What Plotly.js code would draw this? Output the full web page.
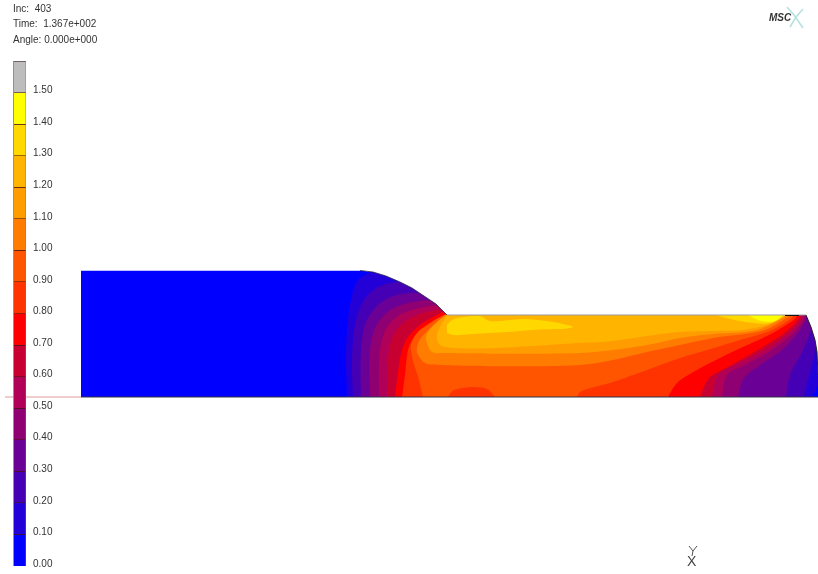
<!DOCTYPE html>
<html><head><meta charset="utf-8">
<script src="https://cdn.plot.ly/plotly-3.0.1.min.js"></script>
<style>html,body{margin:0;padding:0;background:#fff}#chart{width:818px;height:574px;filter:blur(0.35px)}</style>
</head><body><div id="chart"></div>
<script>
// Legend values and colours (bottom to top)
const legendTicks = ['0.00','0.10','0.20','0.30','0.40','0.50','0.60','0.70','0.80','0.90','1.00','1.10','1.20','1.30','1.40','1.50'];
const legendStep = [0.1,0.1,0.1,0.1,0.1,0.1,0.1,0.1,0.1,0.1,0.1,0.1,0.1,0.1,0.1,0.1];
const bandColors = ['#0000ff','#2400d8','#4500b5','#6a0095','#8f0072','#b00058','#c80032','#ff0000','#ff3300','#ff5500','#ff7c00','#ff9c00','#ffb400','#ffd800','#ffff00','#bdbdbd'];
const headerLines = ['Inc:  403','Time:  1.367e+002','Angle: 0.000e+000'];
const headerRows = [8,23,39];

// Part outline (image units, y down)
const shoulder = [[360,270.5],[373,272],[386,276],[400,282],[412,288],[423,295],[430,300],[436,304],[442,310],[447,315]];
const endFace = [[806,315],[811,327],[815,340],[817,352],[818,375]];
const outline = [[81,270.5]].concat(shoulder,endFace,[[818,397],[81,397]]);

// Left (bottom to surface) and right (surface to bottom) iso-lines of each level
const left01 = [[347,397],[346,360],[347,330],[351,300],[358,280],[372,272]];
const right01 = [[818,385],[812,397]];
const left02 = [[353,397],[352,360],[355,325],[364,300],[378,287],[400,282]];
const right02 = [[816,345],[812,365],[808,380],[804,397]];
const left03 = [[361,397],[361,350],[366,322],[379,304],[397,295],[420,293]];
const right03 = [[811,327],[803,350],[790,375],[786,397]];
const left04 = [[370,397],[370,350],[376,326],[389,311],[408,303],[431,300.5]];
const right04 = [[806,318],[800,330],[782,350],[760,365],[744,378],[738,397]];
const left05 = [[379,397],[380,350],[386,329],[398,316],[416,309],[438,306]];
const right05 = [[804,315],[796,330],[772,350],[745,365],[727,375],[722,397]];
const left06 = [[387,397],[389,350],[395,332],[407,320],[423,313],[441,309.5]];
const right06 = [[802,315],[792,330],[765,350],[735,365],[718,375],[712,397]];
const left07 = [[395,397],[402,350],[408,337],[420,325],[433,317],[444,312]];
const right07 = [[799,315],[788,330],[758,350],[728,367],[709,378],[700,397]];
const left08 = [[402,397],[405,375],[408,350],[414,337],[428,325],[446,314]];
const right08 = [[797,315],[778,330],[730,353],[697,370],[677,383],[668,397]];
const left09 = [[423,397],[419,380],[412,357],[411,345],[417,333],[430,323],[447,315]];
const right09 = [[793,315],[772,330],[740,340],[707,350],[680,358],[647,370],[613,382],[580,392],[577,397]];

// Closed regions of the upper levels
const level10 = [[445,315],[428,330],[419,341],[417,352],[425,363],[440,365],[580,365],[613,360],[647,352],[680,345],[713,338],[765,330],[791,315]];
const level11 = [[446,315],[432,327],[426,338],[432,352],[445,353],[580,353],[613,350],[647,345],[680,338],[713,334],[757,330],[788,315]];
const level12 = [[447,315],[440,327],[437,335],[440,345],[580,343],[613,341],[647,336],[680,332],[713,331],[743,330],[770,324],[786,315]];
const level13a = [[447,325],[452,320],[460,317.5],[480,316],[490,321],[523,319],[553,322],[573,327],[567,328.5],[540,329.5],[507,332],[473,334],[453,335],[447,333]];
const level13b = [[715,315],[745,322],[771,323],[785,315]];
const level14 = [[748,315],[761,321],[775,321],[783,315]];
const patch08 = [[448,397],[452,391],[462,388],[475,387],[487,389],[495,397]];

// White surroundings that trim the smoothed bands back to the part outline
const maskTop = [[81,260],[81,270.5]].concat(shoulder,endFace,[[818,260]]);
const maskBottom = [[81,397.5],[818,397.5],[818,412],[81,412]];

function xs(p){return p.map(q=>q[0]);}
function ys(p){return p.map(q=>q[1]);}
function between(l,r){
  const a=l[l.length-1], b=r[0];
  const top=outline.filter(q=>q[0]>a[0]&&(q[0]<b[0]||(q[0]===b[0]&&q[1]<b[1]))&&q[1]<397);
  return l.concat(top,r);
}
function poly(p,c){return {type:'scatter',mode:'lines',x:xs(p),y:ys(p),fill:'toself',fillcolor:c,line:{width:0,shape:'spline',smoothing:0.9},hoverinfo:'skip',showlegend:false};}
function flat(p,c){return {type:'scatter',mode:'lines',x:xs(p),y:ys(p),fill:'toself',fillcolor:c,line:{width:0},hoverinfo:'skip',showlegend:false};}
function stroke(p,c,w){return {type:'scatter',mode:'lines',x:xs(p),y:ys(p),line:{color:c,width:w},hoverinfo:'skip',showlegend:false};}

const traces=[];
traces.push(flat(outline,bandColors[0]));
[[left01,right01],[left02,right02],[left03,right03],[left04,right04],[left05,right05],[left06,right06],[left07,right07],[left08,right08],[left09,right09]]
  .forEach((s,i)=>{ traces.push(poly(between(s[0],s[1]),bandColors[i+1])); });
traces.push(poly(patch08,bandColors[8]));
traces.push(poly(level10,bandColors[10]));
traces.push(poly(level11,bandColors[11]));
traces.push(poly(level12,bandColors[12]));
traces.push(poly(level13a,bandColors[13]));
traces.push(poly(level13b,bandColors[13]));
traces.push(poly(level14,bandColors[14]));
traces.push(flat(maskTop,'#ffffff'));
traces.push(flat(maskBottom,'#ffffff'));

// Outlines, symmetry line and triad
const symmetryLine=[[5,397],[81,397]];
const bottomEdge=[[81,397],[818,397]];
const neckEdge=[[447,315],[806,315]];
const darkMark=[[785,315.5],[799,315.5]];
traces.push(stroke(symmetryLine,'#e49a9a',1));
traces.push(stroke(bottomEdge,'#333344',1.2));
traces.push(stroke(neckEdge,'#999999',1));
traces.push(stroke(endFace,'#222222',1));
traces.push(stroke(shoulder,'#202050',0.8));
traces.push(stroke(darkMark,'#111111',1));
traces.push(stroke([[689,546],[693,551],[697,546]],'#555555',1));
traces.push(stroke([[693,551],[692,556]],'#555555',1));
traces.push(stroke([[787,7],[794,15],[803,28]],'#b5e0e0',1.5));
traces.push(stroke([[803,9],[796,17],[790,27]],'#b5e0e0',1.5));

// Legend: one stacked bar per band
legendStep.forEach((v,i)=>{
  traces.push({type:'bar',x:[0],y:[v],xaxis:'x2',yaxis:'y2',width:1,
    marker:{color:bandColors[i],line:{color:'rgba(70,20,20,0.7)',width:0.8}},hoverinfo:'skip',showlegend:false});
});
traces.push({type:'scatter',mode:'lines',x:[-0.5,-0.5],y:[0,1.6],xaxis:'x2',yaxis:'y2',cliponaxis:false,line:{color:'#666',width:1},hoverinfo:'skip',showlegend:false});
traces.push({type:'scatter',mode:'lines',x:[0.5,0.5],y:[0,1.6],xaxis:'x2',yaxis:'y2',cliponaxis:false,line:{color:'#777',width:0.8},hoverinfo:'skip',showlegend:false});
traces.push({type:'scatter',mode:'lines',x:[-0.5,0.5],y:[1.6,1.6],xaxis:'x2',yaxis:'y2',cliponaxis:false,line:{color:'#666',width:1},hoverinfo:'skip',showlegend:false});

const annotations=[];
legendTicks.forEach(t=>{
  annotations.push({xref:'paper',yref:'y2',x:31/818,y:parseFloat(t),yshift:2.8,text:t,showarrow:false,xanchor:'left',yanchor:'middle',
    font:{family:'Liberation Sans',size:10,color:'#333'}});
});
headerLines.forEach((t,i)=>{
  annotations.push({xref:'x',yref:'y',x:11,y:headerRows[i],text:t.replace(/ /g,'&nbsp;'),showarrow:false,xanchor:'left',yanchor:'middle',
    font:{family:'Liberation Sans',size:10,color:'#333'}});
});
annotations.push({xref:'x',yref:'y',x:780,y:17,text:'<b><i>MSC</i></b>',showarrow:false,font:{family:'Liberation Sans',size:10,color:'#333'}});
annotations.push({xref:'x',yref:'y',x:692,y:561,text:'X',showarrow:false,font:{family:'Liberation Sans',size:14,color:'#444'}});

Plotly.newPlot('chart',traces,{
  width:818,height:574,margin:{l:0,r:0,t:0,b:0},paper_bgcolor:'#fff',plot_bgcolor:'#fff',
  barmode:'stack',bargap:0,showlegend:false,annotations:annotations,
  xaxis:{range:[0,818],visible:false,domain:[0,1]},
  yaxis:{range:[574,0],visible:false,domain:[0,1]},
  xaxis2:{range:[-0.5,0.5],visible:false,domain:[13.5/818,26/818],anchor:'y2'},
  yaxis2:{range:[0,1.6],visible:false,domain:[1-566/574,1-61/574],anchor:'x2'}
},{displayModeBar:false,staticPlot:true});
</script></body></html>
